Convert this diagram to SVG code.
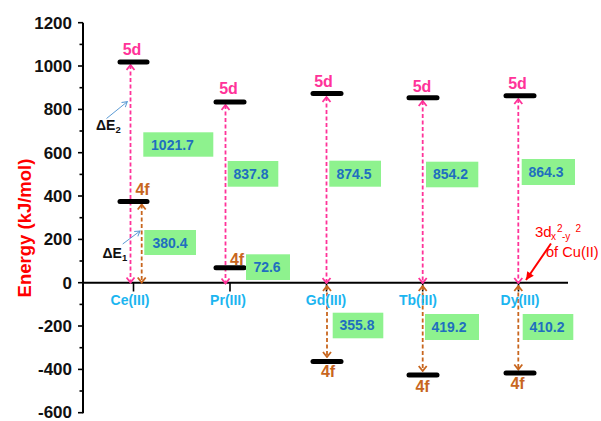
<svg xmlns="http://www.w3.org/2000/svg" width="601" height="421" viewBox="0 0 601 421">
<style>
  text { font-family: "Liberation Sans", Arial, sans-serif; }
  .tick { font-size: 17px; font-weight: bold; fill: #111; text-anchor: end; }
  .ax { stroke: #000; stroke-width: 2; fill: none; }
  .tk { stroke: #000; stroke-width: 1.6; }
  .bar { stroke: #000; stroke-width: 5; stroke-linecap: round; }
  .d5 { font-size: 16px; font-weight: bold; fill: #ff3399; text-anchor: middle; }
  .f4 { font-size: 16px; font-weight: bold; fill: #c8661e; text-anchor: middle; }
  .ion { font-size: 14px; font-weight: bold; fill: #1cb5f0; text-anchor: middle; }
  .box { fill: #8ef28e; }
  .val { font-size: 14px; font-weight: bold; fill: #1f6fbf; text-anchor: middle; }
  .pk { stroke: #ff3399; stroke-width: 1.8; stroke-dasharray: 4 2.5; fill: none; marker-start: url(#ap); marker-end: url(#ap); }
  .or { stroke: #c8661e; stroke-width: 1.8; stroke-dasharray: 4 2.5; fill: none; marker-start: url(#ao); marker-end: url(#ao); }
  .bl { stroke: #5b9bd5; stroke-width: 1; fill: none; marker-end: url(#ab); }
  .de { font-size: 14px; font-weight: bold; fill: #111; }
</style>
<defs>
  <marker id="ap" viewBox="-7 -5 8 10" refX="0" refY="0" markerWidth="8" markerHeight="10" markerUnits="userSpaceOnUse" orient="auto-start-reverse">
    <path d="M-5,-4 L0,0 L-5,4" fill="none" stroke="#ff3399" stroke-width="1.8"/>
  </marker>
  <marker id="ao" viewBox="-7 -5 8 10" refX="0" refY="0" markerWidth="8" markerHeight="10" markerUnits="userSpaceOnUse" orient="auto-start-reverse">
    <path d="M-5,-4 L0,0 L-5,4" fill="none" stroke="#c8661e" stroke-width="1.8"/>
  </marker>
  <marker id="ab" viewBox="-7 -5 8 10" refX="0" refY="0" markerWidth="8" markerHeight="10" markerUnits="userSpaceOnUse" orient="auto">
    <path d="M-5,-3 L0,0 L-5,3" fill="none" stroke="#5b9bd5" stroke-width="1"/>
  </marker>
  <marker id="ar" viewBox="-9 -5 10 10" refX="0" refY="0" markerWidth="10" markerHeight="10" markerUnits="userSpaceOnUse" orient="auto">
    <path d="M-8,-4 L0,0 L-8,4 Z" fill="#ff0000"/>
  </marker>
</defs>

<g id="axes">
  <line class="ax" x1="83" y1="22.7" x2="83" y2="413.3"/>
  <line class="ax" x1="82" y1="282.7" x2="568" y2="282.7"/>
  <g class="tk">
    <line x1="78" y1="22.7" x2="83" y2="22.7"/>
    <line x1="79.5" y1="44.4" x2="83" y2="44.4"/>
    <line x1="78" y1="66.0" x2="83" y2="66.0"/>
    <line x1="79.5" y1="87.7" x2="83" y2="87.7"/>
    <line x1="78" y1="109.4" x2="83" y2="109.4"/>
    <line x1="79.5" y1="131.0" x2="83" y2="131.0"/>
    <line x1="78" y1="152.7" x2="83" y2="152.7"/>
    <line x1="79.5" y1="174.4" x2="83" y2="174.4"/>
    <line x1="78" y1="196.0" x2="83" y2="196.0"/>
    <line x1="79.5" y1="217.7" x2="83" y2="217.7"/>
    <line x1="78" y1="239.4" x2="83" y2="239.4"/>
    <line x1="79.5" y1="261.0" x2="83" y2="261.0"/>
    <line x1="78" y1="282.7" x2="83" y2="282.7"/>
    <line x1="79.5" y1="304.4" x2="83" y2="304.4"/>
    <line x1="78" y1="326.0" x2="83" y2="326.0"/>
    <line x1="79.5" y1="347.7" x2="83" y2="347.7"/>
    <line x1="78" y1="369.4" x2="83" y2="369.4"/>
    <line x1="79.5" y1="391.0" x2="83" y2="391.0"/>
    <line x1="78" y1="412.7" x2="83" y2="412.7"/>
    <line x1="133.5" y1="282.7" x2="133.5" y2="291.5"/>
    <line x1="230" y1="282.7" x2="230" y2="291.5"/>
    <line x1="326.5" y1="282.7" x2="326.5" y2="291.5"/>
    <line x1="422.7" y1="282.7" x2="422.7" y2="291.5"/>
    <line x1="518.5" y1="282.7" x2="518.5" y2="291.5"/>
  </g>
  <text class="tick" x="72" y="28.7">1200</text>
  <text class="tick" x="72" y="72.0">1000</text>
  <text class="tick" x="72" y="115.4">800</text>
  <text class="tick" x="72" y="158.7">600</text>
  <text class="tick" x="72" y="202.0">400</text>
  <text class="tick" x="72" y="245.4">200</text>
  <text class="tick" x="72" y="288.7">0</text>
  <text class="tick" x="72" y="332.0">-200</text>
  <text class="tick" x="72" y="375.4">-400</text>
  <text class="tick" x="72" y="417.5">-600</text>
  <text x="31" y="228" transform="rotate(-90 31 228)" font-size="18.5" font-weight="bold" fill="#ff0000" text-anchor="middle">Energy (kJ/mol)</text>
</g>

<g id="connectors">
  <line class="pk" x1="130.5" y1="65" x2="130.5" y2="282.5"/>
  <line class="or" x1="141.7" y1="204.5" x2="141.7" y2="282.5"/>
  <line class="pk" x1="225.5" y1="105" x2="225.5" y2="283.5"/>
  <line class="pk" x1="326.5" y1="97" x2="326.5" y2="283"/>
  <line class="or" x1="327" y1="286" x2="327" y2="357"/>
  <line class="pk" x1="422.7" y1="101" x2="422.7" y2="283"/>
  <line class="or" x1="422.7" y1="286" x2="422.7" y2="371"/>
  <line class="pk" x1="518.3" y1="99" x2="518.3" y2="283"/>
  <line class="or" x1="518.3" y1="286" x2="518.3" y2="369.5"/>
  <line class="bl" x1="106.5" y1="118.5" x2="127.3" y2="101.7"/>
  <line class="bl" x1="122.7" y1="244" x2="140" y2="231"/>
  <line x1="551" y1="243.5" x2="526" y2="280" stroke="#ff0000" stroke-width="2" marker-end="url(#ar)"/>
</g>

<g id="ce">
  <line class="bar" x1="120" y1="62" x2="147" y2="62"/>
  <line class="bar" x1="120" y1="201.5" x2="147" y2="201.5"/>
  <text class="d5" x="132" y="55">5d</text>
  <text class="f4" x="142.5" y="195">4f</text>
  <text class="ion" x="130" y="305">Ce(III)</text>
</g>
<g id="pr">
  <line class="bar" x1="216" y1="102" x2="244" y2="102"/>
  <line class="bar" x1="216" y1="267.7" x2="244" y2="267.7"/>
  <text class="d5" x="228.5" y="94.3">5d</text>
  <text class="f4" x="237" y="265">4f</text>
  <text class="ion" x="228" y="305">Pr(III)</text>
</g>
<g id="gd">
  <line class="bar" x1="313" y1="93.5" x2="341" y2="93.5"/>
  <line class="bar" x1="313" y1="361.5" x2="341" y2="361.5"/>
  <text class="d5" x="323.5" y="87.3">5d</text>
  <text class="f4" x="328" y="377.3">4f</text>
  <text class="ion" x="326" y="305">Gd(III)</text>
</g>
<g id="tb">
  <line class="bar" x1="409" y1="97.7" x2="437" y2="97.7"/>
  <line class="bar" x1="409" y1="375" x2="437" y2="375"/>
  <text class="d5" x="422" y="91.7">5d</text>
  <text class="f4" x="422.5" y="391.7">4f</text>
  <text class="ion" x="418" y="305">Tb(III)</text>
</g>
<g id="dy">
  <line class="bar" x1="506" y1="95.7" x2="534" y2="95.7"/>
  <line class="bar" x1="506" y1="373" x2="534" y2="373"/>
  <text class="d5" x="517.5" y="89.3">5d</text>
  <text class="f4" x="517.5" y="389.3">4f</text>
  <text class="ion" x="520" y="305">Dy(III)</text>
</g>

<g id="values">
  <g id="v-ce-5d"><rect class="box" x="143.3" y="132.3" width="70" height="24.4"/><text class="val" x="172.5" y="149.5">1021.7</text></g>
  <g id="v-ce-4f"><rect class="box" x="144.3" y="230" width="51.7" height="25"/><text class="val" x="170" y="247.5">380.4</text></g>
  <g id="v-pr-5d"><rect class="box" x="227.7" y="161" width="50.6" height="25.7"/><text class="val" x="251" y="178.8">837.8</text></g>
  <g id="v-pr-4f"><rect class="box" x="246" y="254.3" width="44" height="25.7"/><text class="val" x="267" y="272">72.6</text></g>
  <g id="v-gd-5d"><rect class="box" x="329.3" y="160.7" width="51.7" height="26"/><text class="val" x="354" y="178.5">874.5</text></g>
  <g id="v-tb-5d"><rect class="box" x="426" y="161.7" width="52.3" height="25.6"/><text class="val" x="450.5" y="179.3">854.2</text></g>
  <g id="v-dy-5d"><rect class="box" x="521.7" y="159" width="53.3" height="26"/><text class="val" x="546" y="176.8">864.3</text></g>
  <g id="v-gd-4f"><rect class="box" x="332.7" y="312.7" width="50.6" height="25.6"/><text class="val" x="357" y="330.3">355.8</text></g>
  <g id="v-tb-4f"><rect class="box" x="425" y="314" width="54" height="26"/><text class="val" x="449" y="331.8">419.2</text></g>
  <g id="v-dy-4f"><rect class="box" x="522.7" y="314" width="50.6" height="26"/><text class="val" x="547" y="331.8">410.2</text></g>
</g>

<g id="labels">
  <text class="de" x="96" y="130">ΔE<tspan font-size="9.5" dy="3">2</tspan></text>
  <text class="de" x="102.5" y="257.7">ΔE<tspan font-size="9.5" dy="3">1</tspan></text>
  <text x="535" y="237" font-size="15" fill="#ff0000">3d<tspan x="551" dy="3" font-size="10">x</tspan><tspan x="557" dy="-8" font-size="10">2</tspan><tspan x="562" dy="8" font-size="10">-y</tspan><tspan x="575.5" dy="-8" font-size="10">2</tspan></text>
  <text x="546" y="256.7" font-size="14.6" fill="#ff0000">of Cu(II)</text>
</g>
</svg>
